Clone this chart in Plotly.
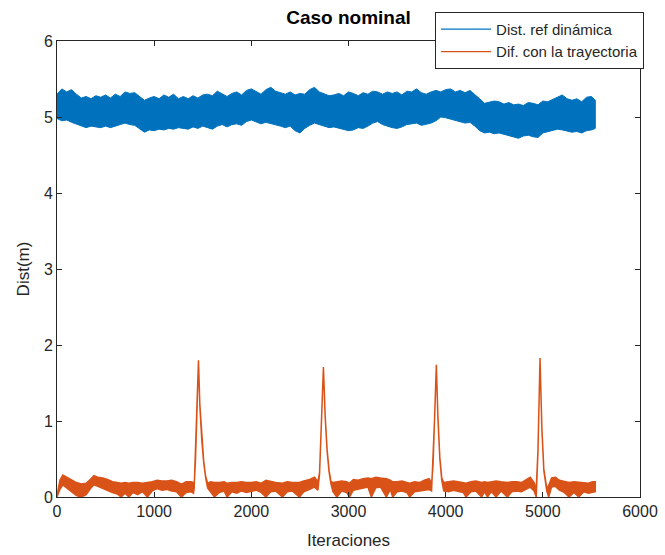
import plotly.graph_objects as go

# ---------------- data ----------------
# Blue series "Dist. ref dinámica": noisy band, upper / lower envelope
blue_x = [0, 50, 100, 150, 200, 250, 300, 350, 400, 450, 500, 550, 600, 650, 700, 750,
          800, 850, 900, 950, 1000, 1050, 1100, 1150, 1200, 1250, 1300, 1350, 1400, 1450,
          1500, 1550, 1600, 1650, 1700, 1750, 1800, 1850, 1900, 1950, 2000, 2050, 2100,
          2150, 2200, 2250, 2300, 2350, 2400, 2450, 2500, 2550, 2600, 2650, 2700, 2750,
          2800, 2850, 2900, 2950, 3000, 3050, 3100, 3150, 3200, 3250, 3300, 3350, 3400,
          3450, 3500, 3550, 3600, 3650, 3700, 3750, 3800, 3850, 3900, 3950, 4000, 4050,
          4100, 4150, 4200, 4250, 4300, 4350, 4400, 4450, 4500, 4550, 4600, 4650, 4700,
          4750, 4800, 4850, 4900, 4950, 5000, 5050, 5100, 5150, 5200, 5250, 5300, 5350,
          5400, 5450, 5500, 5540]
blue_hi = [5.30, 5.37, 5.33, 5.36, 5.30, 5.25, 5.27, 5.24, 5.28, 5.26, 5.29, 5.25, 5.30, 5.27,
           5.33, 5.31, 5.32, 5.27, 5.22, 5.25, 5.27, 5.24, 5.29, 5.26, 5.30, 5.24, 5.27, 5.24,
           5.28, 5.25, 5.29, 5.30, 5.28, 5.34, 5.30, 5.27, 5.31, 5.33, 5.29, 5.35, 5.37, 5.33,
           5.30, 5.36, 5.39, 5.34, 5.32, 5.30, 5.33, 5.29, 5.31, 5.30, 5.36, 5.39, 5.33, 5.31,
           5.28, 5.29, 5.31, 5.28, 5.33, 5.31, 5.28, 5.32, 5.30, 5.34, 5.33, 5.30, 5.33, 5.31,
           5.33, 5.29, 5.34, 5.33, 5.37, 5.32, 5.30, 5.33, 5.35, 5.33, 5.36, 5.37, 5.33, 5.35,
           5.32, 5.35, 5.30, 5.24, 5.18, 5.20, 5.21, 5.20, 5.17, 5.19, 5.16, 5.17, 5.15, 5.19,
           5.18, 5.16, 5.21, 5.20, 5.23, 5.27, 5.29, 5.24, 5.22, 5.24, 5.20, 5.26, 5.27, 5.22]
blue_lo = [4.98, 4.95, 4.96, 4.93, 4.90, 4.88, 4.86, 4.88, 4.87, 4.86, 4.88, 4.86, 4.88, 4.90,
           4.92, 4.90, 4.89, 4.84, 4.80, 4.83, 4.82, 4.84, 4.83, 4.85, 4.84, 4.86, 4.85, 4.84,
           4.87, 4.85, 4.88, 4.86, 4.84, 4.88, 4.90, 4.87, 4.90, 4.91, 4.89, 4.94, 4.96, 4.93,
           4.91, 4.93, 4.92, 4.90, 4.88, 4.86, 4.88, 4.82, 4.79, 4.85, 4.89, 4.92, 4.90, 4.88,
           4.86, 4.87, 4.85, 4.84, 4.82, 4.83, 4.86, 4.85, 4.88, 4.92, 4.94, 4.90, 4.88, 4.86,
           4.85, 4.87, 4.90, 4.91, 4.92, 4.89, 4.90, 4.92, 4.95, 5.00, 4.99, 4.98, 4.95, 4.94,
           4.92, 4.93, 4.88, 4.82, 4.79, 4.80, 4.78, 4.79, 4.77, 4.76, 4.74, 4.72, 4.75, 4.76,
           4.74, 4.73, 4.79, 4.80, 4.82, 4.84, 4.83, 4.82, 4.80, 4.81, 4.79, 4.82, 4.83, 4.85]

# Orange series "Dif. con la trayectoria": low noisy band with four peaks
orange_x = [0, 30, 60, 100, 150, 200, 250, 300, 350, 380, 420, 470, 520, 570, 620, 660, 700,
            740, 780, 830, 880, 930, 980, 1030, 1080, 1130, 1180, 1230, 1280, 1330, 1380,
            1405, 1412, 1425, 1440, 1456, 1470, 1490, 1510, 1530, 1550, 1580, 1620, 1670,
            1720, 1750, 1800, 1850, 1900, 1950, 2000, 2050, 2100, 2150, 2200, 2250, 2320,
            2370, 2420, 2495, 2540, 2600, 2650, 2685, 2702, 2722, 2742, 2760, 2780, 2800,
            2820, 2840, 2880, 2930, 2980, 3010, 3050, 3100, 3150, 3200, 3235, 3280, 3330,
            3390, 3430, 3455, 3500, 3550, 3600, 3630, 3680, 3730, 3780, 3830, 3855, 3870,
            3888, 3904, 3920, 3940, 3960, 3980, 4030, 4080, 4130, 4180, 4210, 4260, 4310,
            4370, 4400, 4430, 4470, 4520, 4570, 4635, 4680, 4730, 4780, 4830, 4870, 4910,
            4932, 4950, 4971, 4990, 5010, 5040, 5060, 5090, 5130, 5170, 5220, 5270, 5320,
            5370, 5420, 5470, 5510, 5540]
orange_lo = [0.00, 0.10, 0.16, 0.13, 0.07, 0.02, 0.00, 0.03, 0.12, 0.16, 0.14, 0.12, 0.09,
             0.06, 0.04, 0.00, 0.05, 0.00, 0.06, 0.03, 0.07, 0.00, 0.08, 0.11, 0.09, 0.10,
             0.08, 0.07, 0.00, 0.06, 0.07, 0.05, 0.12, 0.45, 1.10, 1.80, 1.20, 0.75, 0.45,
             0.25, 0.12, 0.07, 0.00, 0.06, 0.08, 0.00, 0.07, 0.05, 0.08, 0.06, 0.07, 0.09,
             0.06, 0.00, 0.07, 0.08, 0.00, 0.07, 0.08, 0.00, 0.07, 0.10, 0.13, 0.09, 0.30,
             1.00, 1.71, 1.05, 0.60, 0.33, 0.17, 0.07, 0.00, 0.08, 0.06, 0.00, 0.09, 0.10,
             0.12, 0.13, 0.00, 0.12, 0.13, 0.00, 0.10, 0.00, 0.07, 0.08, 0.06, 0.00, 0.07,
             0.08, 0.09, 0.10, 0.08, 0.40, 1.10, 1.74, 1.05, 0.50, 0.22, 0.08, 0.07, 0.09,
             0.08, 0.06, 0.00, 0.07, 0.08, 0.00, 0.07, 0.00, 0.07, 0.00, 0.08, 0.00, 0.07,
             0.08, 0.07, 0.10, 0.13, 0.08, 0.00, 0.60, 1.83, 0.90, 0.35, 0.08, 0.00, 0.13,
             0.14, 0.09, 0.06, 0.00, 0.06, 0.00, 0.07, 0.05, 0.06, 0.07]
orange_hi = [0.02, 0.22, 0.29, 0.26, 0.22, 0.19, 0.17, 0.18, 0.24, 0.28, 0.26, 0.25, 0.23,
             0.20, 0.19, 0.18, 0.19, 0.18, 0.19, 0.19, 0.18, 0.19, 0.20, 0.22, 0.21, 0.21,
             0.22, 0.20, 0.17, 0.20, 0.20, 0.19, 0.16, 0.47, 1.12, 1.80, 1.22, 0.77, 0.47,
             0.27, 0.18, 0.20, 0.19, 0.19, 0.20, 0.18, 0.19, 0.19, 0.20, 0.19, 0.19, 0.20,
             0.18, 0.22, 0.20, 0.19, 0.18, 0.20, 0.19, 0.19, 0.21, 0.23, 0.26, 0.20, 0.32,
             1.02, 1.71, 1.07, 0.62, 0.35, 0.20, 0.19, 0.20, 0.21, 0.20, 0.18, 0.23, 0.22,
             0.24, 0.25, 0.24, 0.26, 0.25, 0.24, 0.22, 0.20, 0.20, 0.21, 0.19, 0.18, 0.20,
             0.19, 0.22, 0.24, 0.18, 0.42, 1.12, 1.74, 1.07, 0.52, 0.25, 0.19, 0.20, 0.21,
             0.20, 0.19, 0.18, 0.20, 0.21, 0.19, 0.20, 0.19, 0.20, 0.21, 0.20, 0.19, 0.20,
             0.20, 0.19, 0.23, 0.26, 0.19, 0.10, 0.62, 1.83, 0.92, 0.37, 0.12, 0.15, 0.25,
             0.26, 0.22, 0.20, 0.19, 0.20, 0.19, 0.19, 0.18, 0.20, 0.20]

x_ticks = [0, 1000, 2000, 3000, 4000, 5000, 6000]
y_ticks = [0, 1, 2, 3, 4, 5, 6]

BLUE = "#0072BD"
ORANGE = "#D95319"
AX = "#262626"
FONT = "Liberation Sans, Arial, Helvetica, sans-serif"

fig = go.Figure()

fig.add_trace(go.Scatter(
    x=blue_x + blue_x[::-1], y=blue_hi + blue_lo[::-1],
    mode="lines", fill="toself", fillcolor=BLUE,
    line=dict(color=BLUE, width=1), showlegend=False, hoverinfo="skip"))
fig.add_trace(go.Scatter(
    x=orange_x + orange_x[::-1], y=orange_hi + orange_lo[::-1],
    mode="lines", fill="toself", fillcolor=ORANGE,
    line=dict(color=ORANGE, width=1.5), showlegend=False, hoverinfo="skip"))

# legend entries (line samples)
fig.add_trace(go.Scatter(x=[None], y=[None], mode="lines",
                         line=dict(color=BLUE, width=1.2), name="Dist. ref dinámica"))
fig.add_trace(go.Scatter(x=[None], y=[None], mode="lines",
                         line=dict(color=ORANGE, width=1.2), name="Dif. con la trayectoria"))

axis_common = dict(showline=True, linecolor=AX, linewidth=1, mirror="ticks",
                   ticks="inside", ticklen=5, tickcolor=AX, tickwidth=1,
                   showgrid=False, zeroline=False, automargin=False,
                   tickfont=dict(family=FONT, size=16, color=AX))

fig.update_xaxes(range=[0, 6000], tickvals=x_ticks, ticktext=[str(v) for v in x_ticks],
                 title=dict(text="Iteraciones", font=dict(family=FONT, size=17, color=AX),
                            standoff=14),
                 **axis_common)
fig.update_yaxes(range=[0, 6], tickvals=y_ticks, ticktext=[str(v) for v in y_ticks],
                 title=dict(text="Dist(m)", font=dict(family=FONT, size=17, color=AX),
                            standoff=9),
                 **axis_common)

fig.update_layout(
    width=665, height=555,
    margin=dict(l=57, r=25, t=35, b=58),
    paper_bgcolor="white", plot_bgcolor="white",
    title=dict(text="<b>Caso nominal</b>", x=0.5, xref="paper", xanchor="center",
               y=1 - 17 / 555, yref="container", yanchor="middle",
               font=dict(family=FONT, size=19, color="black")),
    legend=dict(x=1.007, y=1.064, xanchor="right", yanchor="top",
                bgcolor="white", bordercolor=AX, borderwidth=1,
                font=dict(family=FONT, size=15, color=AX),
                tracegroupgap=0, itemwidth=50),
    showlegend=True,
)

fig.write_html("out.html")
